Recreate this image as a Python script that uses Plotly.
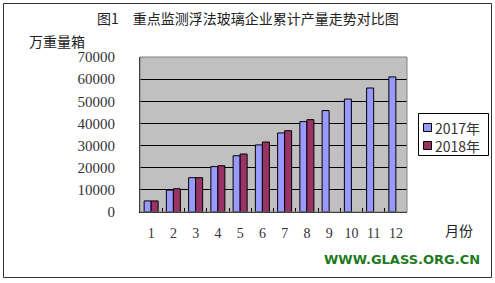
import plotly.graph_objects as go

months = ["1", "2", "3", "4", "5", "6", "7", "8", "9", "10", "11", "12"]
y2017 = [5000, 9900, 15500, 20500, 25400, 30300, 35700, 40800, 45800, 51000, 56000, 61000]
y2018 = [5000, 10500, 15500, 20900, 26200, 31600, 36700, 41700]
yticks = [0, 10000, 20000, 30000, 40000, 50000, 60000, 70000]
series_names = ["2017年", "2018年"]
series_colors = ["#9999FF", "#993366"]

W, H = 495, 283
L, R, T, B = 140, 407, 57, 212

def px(x):
    return (x - L) / (R - L)

def py(y):
    return (B - y) / (B - T)

fig = go.Figure()
fig.add_trace(go.Bar(x=months, y=y2017, name=series_names[0],
                     marker=dict(color=series_colors[0], line=dict(color="black", width=1))))
fig.add_trace(go.Bar(x=months[:len(y2018)], y=y2018, name=series_names[1],
                     marker=dict(color=series_colors[1], line=dict(color="black", width=1))))

cjk = "Noto Sans CJK SC"

shapes = [
    dict(type="rect", xref="paper", yref="paper", x0=0, x1=1, y0=0, y1=1,
         line=dict(color="#808080", width=1), fillcolor="rgba(0,0,0,0)", layer="above"),
    dict(type="rect", xref="paper", yref="paper", x0=px(3.5), x1=px(491.5), y0=py(277.5), y1=py(3.5),
         line=dict(color="#333", width=1), fillcolor="rgba(0,0,0,0)"),
    # legend box
    dict(type="rect", xref="paper", yref="paper", x0=px(418.5), x1=px(488.5), y0=py(155.5), y1=py(113.5),
         line=dict(color="black", width=1), fillcolor="white"),
]
annotations = [
    dict(text="图1　重点监测浮法玻璃企业累计产量走势对比图", xref="paper", yref="paper",
         x=px(248), y=py(18), xanchor="center", yanchor="middle", showarrow=False,
         font=dict(family=cjk, size=14, color="#222")),
    dict(text="万重量箱", xref="paper", yref="paper", x=px(27), y=py(41),
         xanchor="left", yanchor="middle", showarrow=False,
         font=dict(family=cjk, size=14, color="#222")),
    dict(text="月份", xref="paper", yref="paper", x=px(443), y=py(230),
         xanchor="left", yanchor="middle", showarrow=False,
         font=dict(family=cjk, size=14, color="#222")),
    dict(text="<b>WWW.GLASS.ORG.CN</b>", xref="paper", yref="paper", x=px(482), y=py(259.5),
         xanchor="right", yanchor="middle", showarrow=False,
         font=dict(family="DejaVu Sans", size=13, color="#1E7A1E")),
    # legend labels (one block, two lines)
    dict(text="<br>".join(series_names), xref="paper", yref="paper", x=px(434), y=py(136.5),
         xanchor="left", yanchor="middle", align="left", showarrow=False, borderpad=0,
         font=dict(family=cjk, size=14, color="#333")),
]
leg_y = [127.5, 145.5]
for col, cy in zip(series_colors, leg_y):
    shapes.append(dict(type="rect", xref="paper", yref="paper",
                       x0=px(423.5), x1=px(431.5), y0=py(cy + 4), y1=py(cy - 4),
                       line=dict(color="black", width=1), fillcolor=col))

fig.update_layout(
    width=W, height=H,
    margin=dict(l=L, r=W - R, t=T, b=H - B, pad=0, autoexpand=False),
    paper_bgcolor="white", plot_bgcolor="#C0C0C0",
    barmode="group", bargap=0.37, bargroupgap=0,
    showlegend=False,
    xaxis=dict(type="category", categoryorder="array", categoryarray=months,
               showline=True, linecolor="black", linewidth=1, mirror=False,
               ticks="inside", tickson="boundaries", ticklen=4, tickcolor="black",
               tickangle=0, ticklabelstandoff=8, automargin=False,
               tickfont=dict(family="Liberation Serif", size=14, color="#333"),
               showgrid=False, fixedrange=True),
    yaxis=dict(range=[0, 70000], tickvals=yticks, ticktext=[str(v) for v in yticks],
               showline=True, linecolor="black", linewidth=1,
               showgrid=True, gridcolor="black", gridwidth=1,
               ticks="", ticklabelstandoff=21, automargin=False,
               tickfont=dict(family="Liberation Serif", size=15, color="#333"),
               zeroline=False, fixedrange=True),
    shapes=shapes,
    annotations=annotations,
)

fig.write_html("out.html")
